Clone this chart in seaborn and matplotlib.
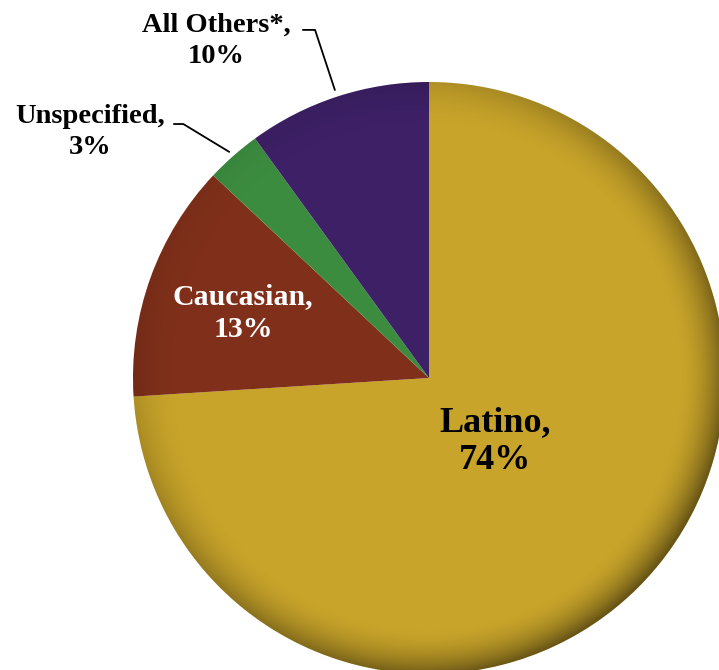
import numpy as np
import matplotlib
matplotlib.use("Agg")
from matplotlib import pyplot as plt
from matplotlib.patches import Circle
import seaborn as sns

# data
groups = ["Latino", "Caucasian", "Unspecified", "All Others*"]
shares = [74, 13, 3, 10]
colors = ["#C8A42A", "#80301A", "#3C8C40", "#3D2066"]

sns.set_theme(style="white")
plt.rcParams["font.family"] = ["Liberation Serif", "DejaVu Serif"]

fig = plt.figure(figsize=(7.19, 6.7), dpi=100)
ax = fig.add_axes([0, 0, 1, 1])

wedges, _ = ax.pie(
    shares,
    colors=colors,
    startangle=90,
    counterclock=False,
    radius=1.0,
    wedgeprops=dict(linewidth=0),
)

# soft rim shading to mimic the bevelled look (darker towards lower right)
n = 400
xs = np.linspace(-1, 1, n)
X, Y = np.meshgrid(xs, xs)
R = np.sqrt(X ** 2 + Y ** 2)
side = np.clip(0.55 + 0.45 * (X - Y) / np.sqrt(2) / np.maximum(R, 1e-6), 0, 1)
shade = np.clip((R - 0.84) / 0.16, 0, 1) ** 2 * 0.5 * side
rgba = np.zeros((n, n, 4))
rgba[..., 3] = shade
img = ax.imshow(rgba, extent=(-1, 1, -1, 1), origin="lower", zorder=3)
img.set_clip_path(Circle((0, 0), 1.0, transform=ax.transData))

# labels
ax.text(0.223, -0.215, f"{groups[0]},\n{shares[0]}%", ha="center", va="center",
        fontsize=26, fontweight="bold", color="black", linespacing=1.2, zorder=5)
ax.text(-0.628, 0.22, f"{groups[1]},\n{shares[1]}%", ha="center", va="center",
        fontsize=21.5, fontweight="bold", color="white", linespacing=1.25, zorder=5)
ax.text(-1.145, 0.83, f"{groups[2]},\n{shares[2]}%", ha="center", va="center",
        fontsize=20.5, fontweight="bold", color="black", linespacing=1.32, zorder=5)
ax.text(-0.72, 1.14, f"{groups[3]},\n{shares[3]}%", ha="center", va="center",
        fontsize=20.5, fontweight="bold", color="black", linespacing=1.32, zorder=5)

# leader lines
ax.plot([-0.862, -0.83, -0.675], [0.858, 0.858, 0.764], color="black", lw=1.3, zorder=5)
ax.plot([-0.426, -0.385, -0.318], [1.176, 1.176, 0.973], color="black", lw=1.3, zorder=5)

ax.set_xlim(-429 / 296, (719 - 429) / 296)
ax.set_ylim(-(670 - 378) / 296, 378 / 296)
ax.set_aspect("auto")
ax.axis("off")

fig.savefig("out.png", dpi=100)
